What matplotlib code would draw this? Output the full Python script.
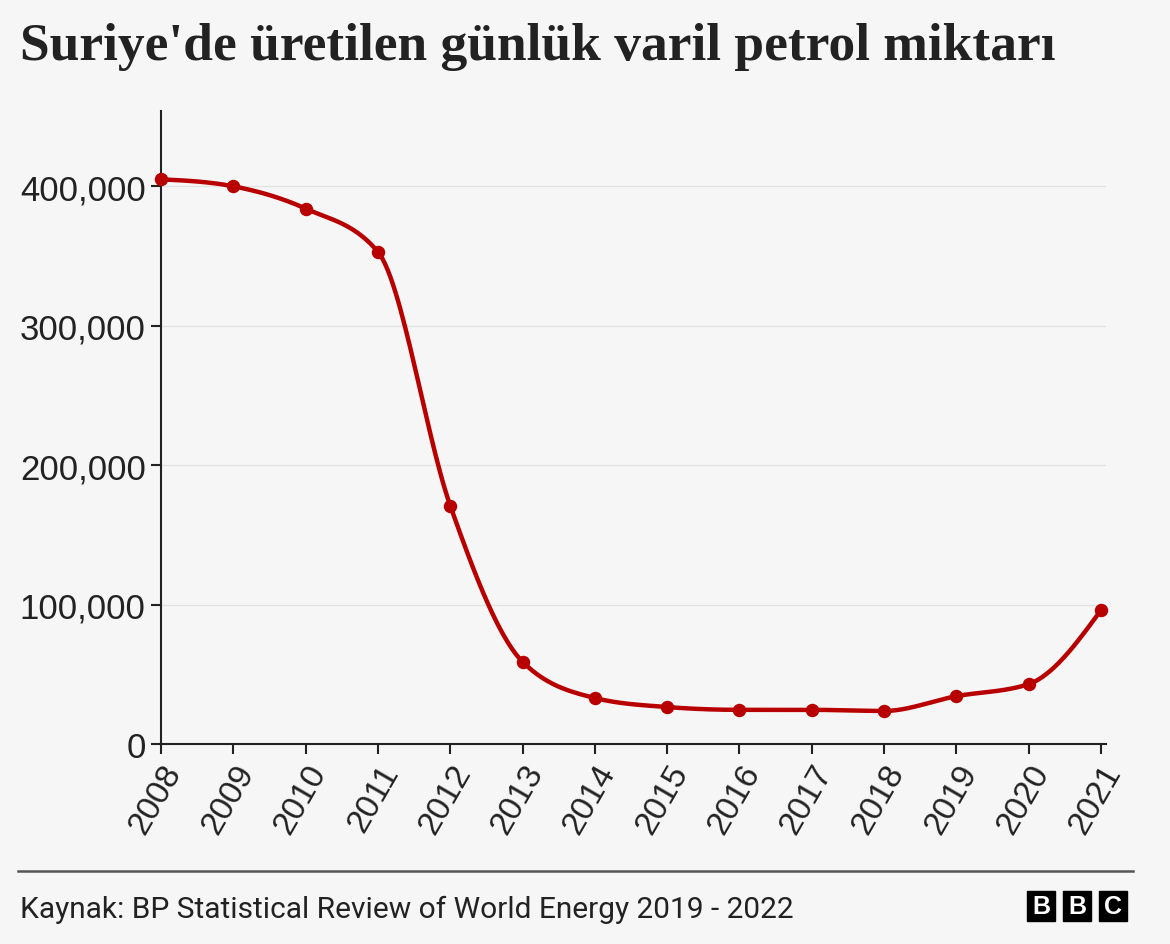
import numpy as np
import matplotlib.pyplot as plt
from matplotlib.patches import Rectangle

years = [2008, 2009, 2010, 2011, 2012, 2013, 2014, 2015, 2016, 2017, 2018, 2019, 2020, 2021]
barrels = [405000, 400000, 384000, 353000, 171000, 59000, 33000, 26500,
           24500, 24500, 23700, 34300, 43000, 96000]
yticks = [0, 100000, 200000, 300000, 400000]

title = "Suriye'de üretilen günlük varil petrol miktarı"
source = "Kaynak: BP Statistical Review of World Energy 2019 - 2022"

bg = "#f6f6f6"
red = "#b80000"


def monotone_curve(x, y, n=30):
    # d3 curveMonotoneX style (Steffen) smoothing through the points
    x = np.asarray(x, float)
    y = np.asarray(y, float)
    h = np.diff(x)
    s = np.diff(y) / h
    t = np.zeros(len(x))
    for i in range(1, len(x) - 1):
        p = (s[i - 1] * h[i] + s[i] * h[i - 1]) / (h[i - 1] + h[i])
        t[i] = (np.sign(s[i - 1]) + np.sign(s[i])) * min(abs(s[i - 1]), abs(s[i]), 0.5 * abs(p))
    t[0] = (3 * s[0] - t[1]) / 2
    t[-1] = (3 * s[-1] - t[-2]) / 2
    xs, ys = [], []
    for i in range(len(x) - 1):
        u = np.linspace(0, 1, n)
        h00 = 2 * u**3 - 3 * u**2 + 1
        h10 = u**3 - 2 * u**2 + u
        h01 = -2 * u**3 + 3 * u**2
        h11 = u**3 - u**2
        xs.append(x[i] + u * h[i])
        ys.append(h00 * y[i] + h10 * h[i] * t[i] + h01 * y[i + 1] + h11 * h[i] * t[i + 1])
    return np.concatenate(xs), np.concatenate(ys)


fig = plt.figure(figsize=(11.7, 9.45), dpi=100, facecolor=bg)
ax = fig.add_axes([161 / 1170, 1 - 745 / 945, 945 / 1170, 633 / 945])
ax.set_facecolor(bg)

cx, cy = monotone_curve(years, barrels)
ax.plot(cx, cy, color=red, linewidth=3.2, solid_capstyle="round", zorder=3, clip_on=False)
ax.scatter(years, barrels, s=75, color=red, zorder=4, clip_on=False)

ax.set_xlim(2008, 2021 + 5 / 72.3)
ax.set_ylim(0, 454000)
ax.set_xticks(years)
ax.set_xticklabels([str(y) for y in years], rotation=60, ha="right",
                   rotation_mode="anchor", fontsize=24, family="Liberation Sans", color="#222222")
ax.set_yticks(yticks)
ax.set_yticklabels([f"{v:,}" for v in yticks], fontsize=25, family="Liberation Sans", color="#222222")
ax.tick_params(axis="both", length=7, width=1.5, color="#222222", pad=4)
ax.grid(axis="y", color="#e3e3e3", linewidth=1)
ax.set_axisbelow(True)
for side in ["top", "right"]:
    ax.spines[side].set_visible(False)
for side in ["left", "bottom"]:
    ax.spines[side].set_linewidth(1.5)
    ax.spines[side].set_color("#222222")

fig.text(20 / 1170, 1 - 47 / 945, title, fontsize=38.5, fontweight="bold",
         family="Liberation Serif", color="#222222", va="center", ha="left")

fig.add_artist(plt.Line2D([18 / 1170, 1133 / 1170], [1 - 872 / 945] * 2,
                          color="#555555", linewidth=1.8, transform=fig.transFigure))
fig.text(20 / 1170, 1 - 910 / 945, source, fontsize=21.5,
         family=["Liberation Sans Narrow", "Roboto"], color="#222222", va="center", ha="left")

# BBC blocks
for i, letter in enumerate("BBC"):
    x0 = 1027 + i * 36
    fig.add_artist(Rectangle((x0 / 1170, 1 - 922 / 945), 28 / 1170, 30 / 945,
                             transform=fig.transFigure, color="black"))
    fig.text((x0 + 14) / 1170, 1 - 907 / 945, letter, color="white", fontsize=18,
             fontweight="bold", family="Liberation Sans", ha="center", va="center")

fig.savefig("out.png", dpi=100, facecolor=bg)
